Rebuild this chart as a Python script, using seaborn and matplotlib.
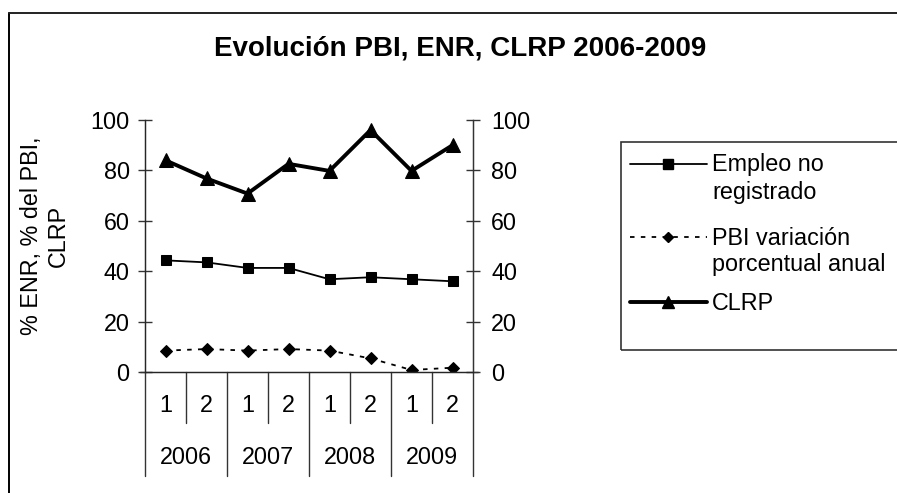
import matplotlib
matplotlib.use("Agg")
import matplotlib.pyplot as plt
from matplotlib.lines import Line2D
from matplotlib.patches import Rectangle
import seaborn as sns
import numpy as np

# ---- data ----
halves = ["1", "2", "1", "2", "1", "2", "1", "2"]
years = ["2006", "2007", "2008", "2009"]
empleo = [44.3, 43.5, 41.3, 41.3, 36.8, 37.6, 36.8, 36.0]
pbi = [8.5, 9.1, 8.5, 9.1, 8.5, 5.4, 0.8, 1.7]
clrp = [84.0, 76.8, 70.8, 82.6, 79.8, 96.0, 79.8, 90.0]
series_names = [["Empleo no", "registrado"], ["PBI variación", "porcentual anual"], ["CLRP"]]
yticks = [0, 20, 40, 60, 80, 100]

sns.set_style("white")
plt.rcParams["font.family"] = ["Liberation Sans", "DejaVu Sans"]
plt.rcParams["text.color"] = "black"
plt.rcParams["axes.labelcolor"] = "black"
plt.rcParams["ytick.color"] = "black"

FS = 16.8
W, H = 897, 493
fig = plt.figure(figsize=(W / 100, H / 100), dpi=100)

def fx(px):
    return px / W

def fy(py):
    return 1 - py / H

# outer frame (left and top edges visible)
fig.add_artist(Line2D([fx(9), fx(9)], [fy(13), fy(H + 5)], transform=fig.transFigure,
                      color="black", lw=1.4))
fig.add_artist(Line2D([fx(9), fx(W + 5)], [fy(13), fy(13)], transform=fig.transFigure,
                      color="#222222", lw=1.4))

x0, x1, ytop, ybot = 145, 473, 120, 372
ax = fig.add_axes([x0 / W, 1 - ybot / H, (x1 - x0) / W, (ybot - ytop) / H])
xs = np.arange(len(halves))

sns.lineplot(x=xs, y=empleo, ax=ax, color="black", linewidth=1.3, marker="s",
             markersize=7.5, markeredgecolor="black")
sns.lineplot(x=xs, y=pbi, ax=ax, color="black", linewidth=1.3, marker="D",
             markersize=6.2, markeredgecolor="black")
ax.lines[-1].set_linestyle((0, (2.5, 3.5)))
sns.lineplot(x=xs, y=clrp, ax=ax, color="black", linewidth=2.8, marker="^",
             markersize=9.5, markeredgecolor="black")

ax.set_xlim(-0.5, len(halves) - 0.5)
ax.set_ylim(0, 100)
ax.set_yticks(yticks)
ax.set_xticks([])
ax.spines["top"].set_visible(False)
for s in ["left", "right"]:
    ax.spines[s].set_color("#333333")
    ax.spines[s].set_linewidth(1.0)
ax.tick_params(axis="y", direction="inout", length=10, width=1, color="#333333",
               labelsize=FS, pad=6)
ax.set_facecolor("white")

ax2 = ax.twinx()
ax2.set_ylim(0, 100)
ax2.set_yticks(yticks)
ax2.spines["top"].set_visible(False)
ax2.spines["right"].set_color("#333333")
ax2.tick_params(axis="y", direction="inout", length=10, width=1, color="#333333",
                labelsize=FS, pad=8)
ax2.grid(False)
ax.grid(False)

# bottom line extends slightly past axes
ax.spines["bottom"].set_visible(False)
ax.plot([-0.62, len(halves) - 0.38], [0, 0], color="#333333", lw=1, clip_on=False)

# multi-level category axis
tr = ax.get_xaxis_transform()
ph = ybot - ytop

def yax(py):
    return -(py - ybot) / ph

for i, lab in enumerate(halves):
    ax.text(i, yax(405), lab, transform=tr, ha="center", va="center", fontsize=FS)
for b in range(0, len(halves) + 1):
    bx = b - 0.5
    end = yax(423) if b % 2 == 1 else yax(476)
    ax.plot([bx, bx], [0, end], transform=tr, color="#333333", lw=1, clip_on=False)
for j, yr in enumerate(years):
    ax.text(2 * j + 0.5, yax(457), yr, transform=tr, ha="center", va="center", fontsize=FS)

fig.text(fx(45), fy(236), "% ENR, % del PBI,\nCLRP", rotation=90, ha="center",
         va="center", multialignment="center", fontsize=FS, linespacing=1.2)

fig.text(fx(460), fy(48), "Evolución PBI, ENR, CLRP 2006-2009", ha="center",
         va="center", fontsize=20, fontweight="bold")

# legend box
fig.add_artist(Rectangle((fx(621), fy(350)), (W - 621 + 2) / W, (350 - 142) / H,
                         transform=fig.transFigure, fill=False, edgecolor="#333333",
                         lw=1.2))
styles = [dict(lw=1.3, marker="s", ms=6.5, ls="-"),
          dict(lw=1.3, marker="D", ms=5.2, ls=(0, (2.5, 3.5))),
          dict(lw=2.8, marker="^", ms=8.5, ls="-")]
line_y = [[165, 192], [238, 265], [303]]
for lines, st, ys in zip(series_names, styles, line_y):
    hy = fy(ys[0] - 1)
    fig.add_artist(Line2D([fx(630), fx(707)], [hy, hy], transform=fig.transFigure,
                          color="black", lw=st["lw"], ls=st["ls"]))
    fig.add_artist(Line2D([fx(668)], [hy], transform=fig.transFigure, color="black",
                          marker=st["marker"], ms=st["ms"], ls="none"))
    for txt, py in zip(lines, ys):
        fig.text(fx(712), fy(py), txt, ha="left", va="center", fontsize=FS)

fig.savefig("out.png", dpi=100)
